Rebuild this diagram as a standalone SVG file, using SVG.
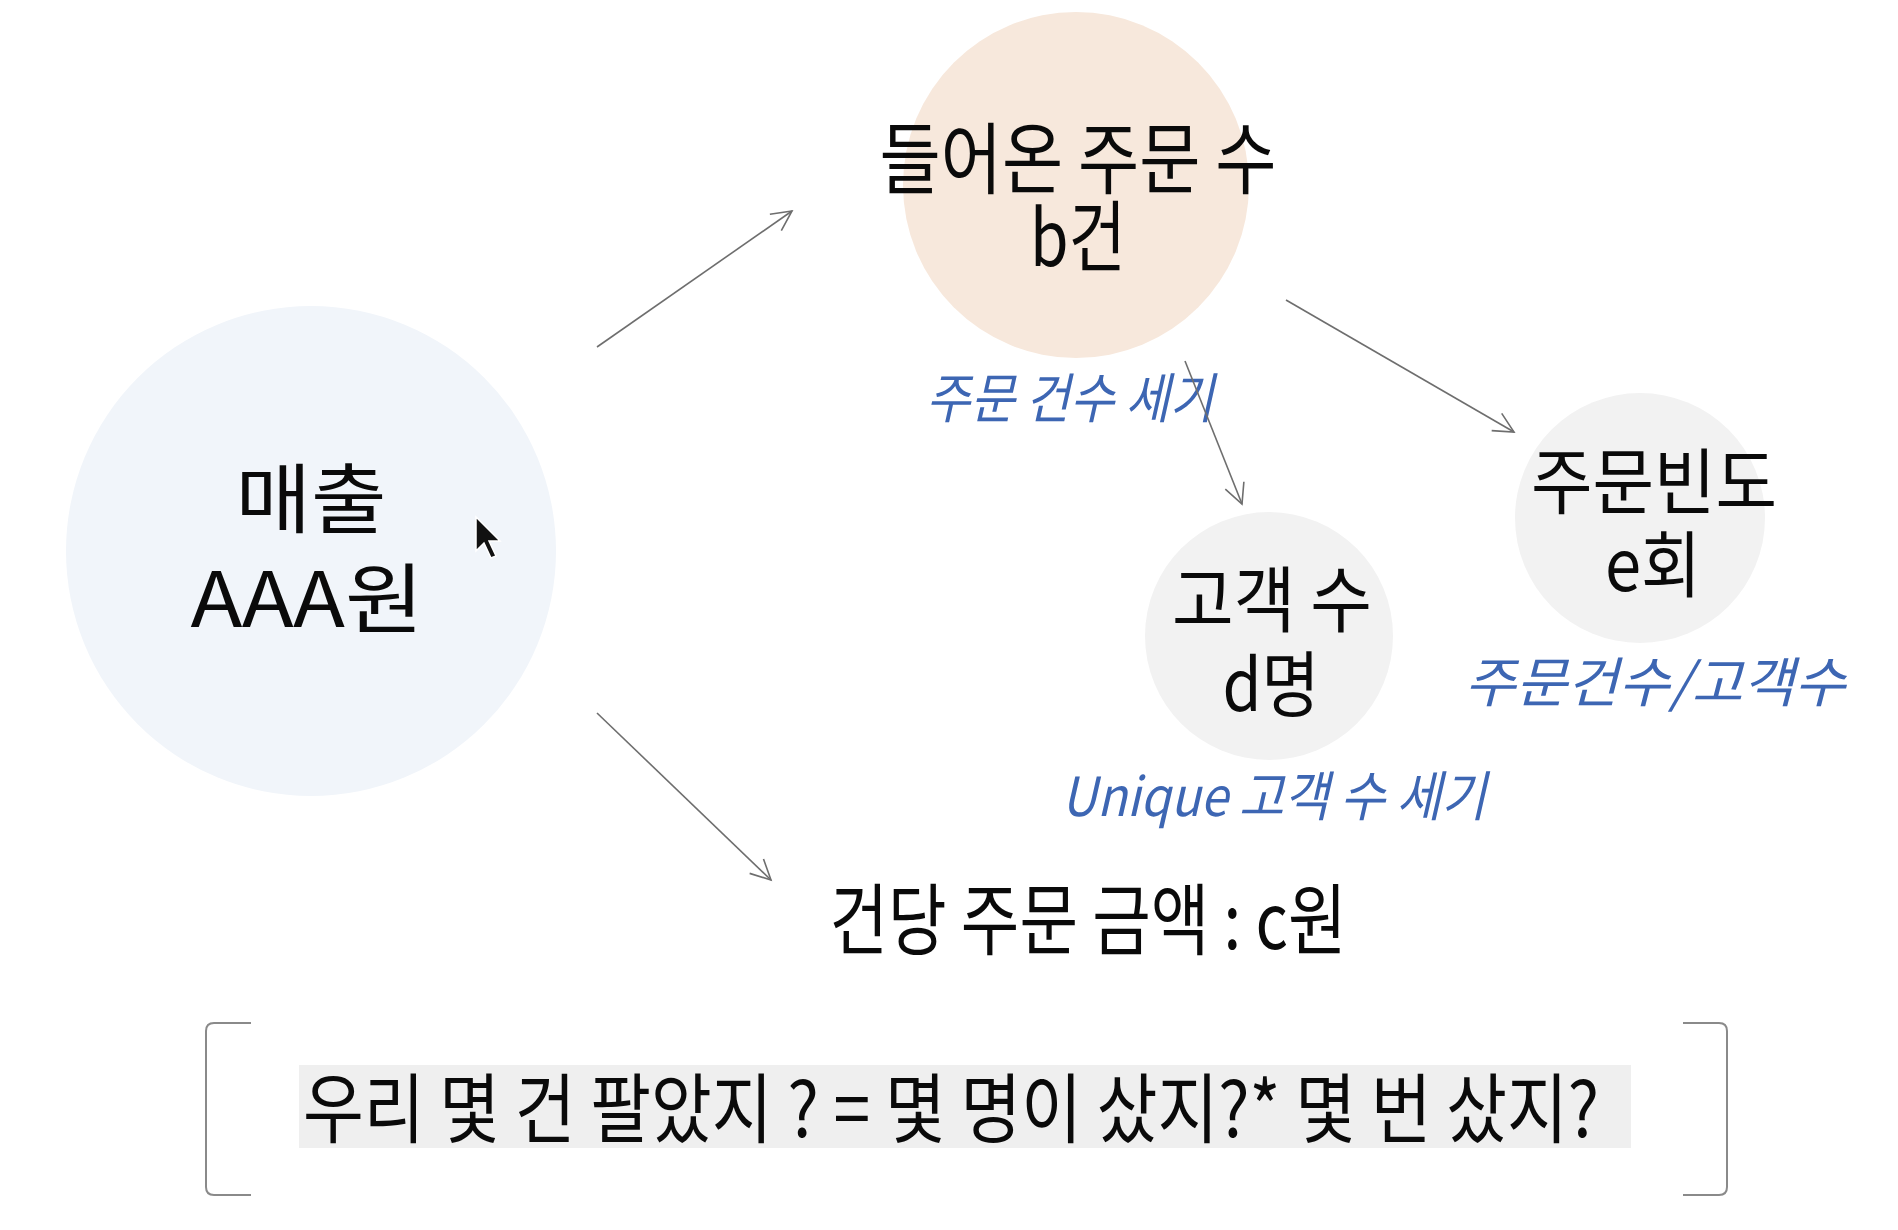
<svg xmlns="http://www.w3.org/2000/svg" width="1898" height="1230" viewBox="0 0 1898 1230">
<style>
.k{font-family:"Noto Sans CJK KR","Liberation Sans",sans-serif;fill:#0a0a0a;text-anchor:middle}
.b{font-family:"Noto Sans CJK KR","Liberation Sans",sans-serif;fill:#3d66b3;font-style:italic;text-anchor:middle}
.c{stroke:#6e6e6e;stroke-width:1.6;fill:none}
</style>
<defs>
<marker id="ah" markerUnits="userSpaceOnUse" markerWidth="30" markerHeight="30" refX="22" refY="12" orient="auto" viewBox="0 0 30 24">
<path d="M2,2 L22,12 L2,22" fill="none" stroke="#6e6e6e" stroke-width="1.6"/>
</marker>
</defs>
<rect width="1898" height="1230" fill="#ffffff"/>
<g id="node-sales">
<circle cx="311" cy="551" r="245" fill="#f1f5fa"/>
<text class="k" font-size="76"><tspan x="311" y="527" textLength="151" lengthAdjust="spacingAndGlyphs">매출</tspan><tspan x="307" y="627" textLength="233" lengthAdjust="spacingAndGlyphs">AAA원</tspan></text>
</g>
<g id="node-orders">
<circle cx="1076" cy="185" r="173" fill="#f7e8dc"/>
<text class="k" font-size="78"><tspan x="1078" y="188" textLength="397" lengthAdjust="spacingAndGlyphs">들어온 주문 수</tspan><tspan x="1078" y="266" textLength="96" lengthAdjust="spacingAndGlyphs">b건</tspan></text>
<text class="b" x="1070" y="418" font-size="54" textLength="288" lengthAdjust="spacingAndGlyphs">주문 건수 세기</text>
</g>
<g id="node-customers">
<circle cx="1269" cy="636" r="124" fill="#f2f2f2"/>
<text class="k" font-size="72"><tspan x="1272" y="626" textLength="200" lengthAdjust="spacingAndGlyphs">고객 수</tspan><tspan x="1271" y="711" textLength="97" lengthAdjust="spacingAndGlyphs">d명</tspan></text>
<text class="b" x="1274" y="816" font-size="54" textLength="425" lengthAdjust="spacingAndGlyphs">Unique 고객 수 세기</text>
</g>
<g id="node-frequency">
<circle cx="1640" cy="518" r="125" fill="#f2f2f2"/>
<text class="k" font-size="72"><tspan x="1654" y="508" textLength="246" lengthAdjust="spacingAndGlyphs">주문빈도</tspan><tspan x="1653" y="591" textLength="96" lengthAdjust="spacingAndGlyphs">e회</tspan></text>
<text class="b" x="1655" y="702" font-size="54" textLength="381" lengthAdjust="spacingAndGlyphs">주문건수/고객수</text>
</g>
<g id="node-aov">
<text class="k" x="1088" y="949" font-size="78" textLength="517" lengthAdjust="spacingAndGlyphs">건당 주문 금액 : c원</text>
</g>
<g id="connectors">
<line class="c" x1="597" y1="347" x2="792" y2="211" marker-end="url(#ah)"/>
<line class="c" x1="597" y1="713" x2="771" y2="880" marker-end="url(#ah)"/>
<line class="c" x1="1185" y1="361" x2="1242" y2="504" marker-end="url(#ah)"/>
<line class="c" x1="1286" y1="300" x2="1514" y2="432" marker-end="url(#ah)"/>
</g>
<g id="summary">
<path d="M251,1023 L214,1023 Q206,1023 206,1031 L206,1187 Q206,1195 214,1195 L251,1195" fill="none" stroke="#8a8a8a" stroke-width="2"/>
<path d="M1683,1023 L1719,1023 Q1727,1023 1727,1031 L1727,1187 Q1727,1195 1719,1195 L1683,1195" fill="none" stroke="#8a8a8a" stroke-width="2"/>
<rect x="299" y="1065" width="1332" height="83" fill="#efefef"/>
<text class="k" x="951" y="1137" font-size="76" textLength="1296" lengthAdjust="spacingAndGlyphs">우리 몇 건 팔았지 ? = 몇 명이 샀지?* 몇 번 샀지?</text>
</g>
<g id="cursor">
<path d="M476,517 L476,551 L484,543 L491,558 L496,556 L489,541 L500,541 Z" fill="#111" stroke="#ffffff" stroke-width="1.5"/>
</g>
</svg>
